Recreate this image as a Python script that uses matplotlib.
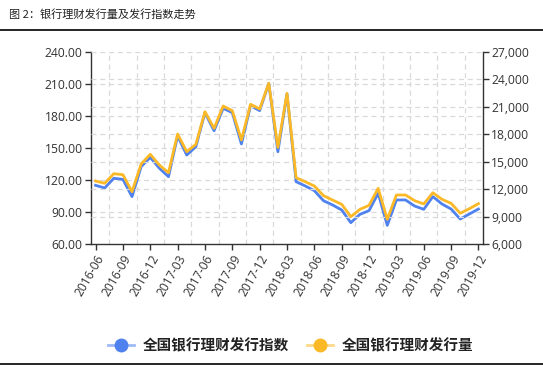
import matplotlib
matplotlib.use("Agg")
import matplotlib.pyplot as plt
import numpy as np
from matplotlib.lines import Line2D

# monthly, 2016-06 .. 2019-12
months = ["2016-06", "2016-07", "2016-08", "2016-09", "2016-10", "2016-11",
          "2016-12", "2017-01", "2017-02", "2017-03", "2017-04", "2017-05",
          "2017-06", "2017-07", "2017-08", "2017-09", "2017-10", "2017-11",
          "2017-12", "2018-01", "2018-02", "2018-03", "2018-04", "2018-05",
          "2018-06", "2018-07", "2018-08", "2018-09", "2018-10", "2018-11",
          "2018-12", "2019-01", "2019-02", "2019-03", "2019-04", "2019-05",
          "2019-06", "2019-07", "2019-08", "2019-09", "2019-10", "2019-11",
          "2019-12"]

issue_index = [115.0, 112.5, 121.6, 120.6, 104.4, 132.5, 141.2, 131.0, 123.1,
               161.3, 143.4, 151.2, 183.1, 166.2, 187.2, 183.1, 153.8, 189.7,
               185.0, 210.6, 146.5, 200.6, 118.4, 114.4, 110.0, 100.6, 96.6,
               91.9, 80.0, 87.8, 91.3, 107.5, 77.5, 101.3, 101.3, 95.6, 92.5,
               104.4, 97.5, 92.8, 83.4, 88.1, 92.8]

issue_volume = [12890, 12640, 13690, 13580, 11720, 14750, 15810, 14640, 13800,
                18030, 16100, 16900, 20470, 18650, 21090, 20580, 17380, 21280,
                20770, 23580, 16570, 22480, 13250, 12810, 12340, 11290, 10810,
                10340, 8990, 9790, 10230, 12090, 8700, 11360, 11360, 10740,
                10380, 11610, 10890, 10450, 9360, 9860, 10410]

title = "图 2：银行理财发行量及发行指数走势"
label_index = "全国银行理财发行指数"
label_volume = "全国银行理财发行量"

blue = "#4f82ee"
yellow = "#fbb927"
grid_c = "#d9d9d9"
txt_c = "#333333"

plt.rcParams['font.family'] = ['Open Sans', 'Noto Sans CJK SC', 'DejaVu Sans']

fig = plt.figure(figsize=(5.43, 3.73), dpi=100)
ax = fig.add_axes([91 / 543, 1 - 244 / 373, (483 - 91) / 543, (244 - 52) / 373])
ax2 = ax.twinx()

x = np.arange(len(months))
ax.set_xlim(-0.5, len(months) - 0.5)
ax.set_ylim(60, 240)
ax2.set_ylim(6000, 27000)
ax.set_yticks(np.arange(60, 241, 30))
ax2.set_yticks(np.arange(6000, 27001, 3000))
ax.set_yticklabels(["%.2f" % v for v in np.arange(60, 241, 30)])
ax2.set_yticklabels(["{:,}".format(v) for v in np.arange(6000, 27001, 3000)])

tick_pos = x[::3]
ax.set_xticks(tick_pos)
ax.set_xticklabels([months[i] for i in tick_pos], rotation=60, ha="right",
                   rotation_mode="anchor")

# dashed grid: horizontal from both axes, vertical between labelled ticks
for v in np.arange(90, 240, 30):
    ax.axhline(v, color=grid_c, ls=(0, (4, 3)), lw=0.9, zorder=0)
for v in np.arange(9000, 27001, 3000):
    ax2.axhline(v, color=grid_c, ls=(0, (4, 3)), lw=0.9, zorder=0)
for p in tick_pos[:-1] + 1.5:
    ax.axvline(p, color=grid_c, ls=(0, (4, 3)), lw=0.9, zorder=0)

ax.plot(x, issue_index, color=blue, lw=2.0, zorder=3, solid_joinstyle="round")
ax2.plot(x, issue_volume, color=yellow, lw=2.0, zorder=4, solid_joinstyle="round")

for a in (ax, ax2):
    a.spines["top"].set_visible(False)
    for s in ("left", "right", "bottom"):
        a.spines[s].set_color("#333333")
        a.spines[s].set_linewidth(1.0)
    a.tick_params(colors=txt_c, labelsize=8.7, length=4, width=1.0, pad=2)
ax.spines["right"].set_visible(False)
ax2.spines["left"].set_visible(False)
ax2.spines["bottom"].set_visible(False)

# legend: faded line with solid dot
def legend_handle(c):
    ln = Line2D([], [], color=c, lw=2, alpha=0.55)
    dot = Line2D([], [], ls="none", marker="o", markersize=9,
                 markerfacecolor=c, markeredgecolor=c)
    return (ln, dot)

leg = fig.legend([legend_handle(blue), legend_handle(yellow)],
                 [label_index, label_volume], loc="center",
                 bbox_to_anchor=(0.535, 1 - 345 / 373), ncol=2, frameon=False,
                 prop={"family": ["Noto Sans CJK SC"], "size": 10.5,
                       "weight": "bold"},
                 handlelength=1.8, handletextpad=0.6, columnspacing=1.2)
for t in leg.get_texts():
    t.set_color("#222222")

# title and rules
fig.text(8.5 / 543, 1 - 14.5 / 373, title, fontsize=8,
         family=["Noto Sans CJK SC", "DejaVu Sans"], va="center", ha="left",
         color="#222222")
fig.add_artist(Line2D([0, 1], [1 - 30 / 373, 1 - 30 / 373], color="black", lw=1.2))
fig.add_artist(Line2D([0, 1], [1 - 364 / 373, 1 - 364 / 373], color="black", lw=1.2))

fig.savefig("out.png", dpi=100)
